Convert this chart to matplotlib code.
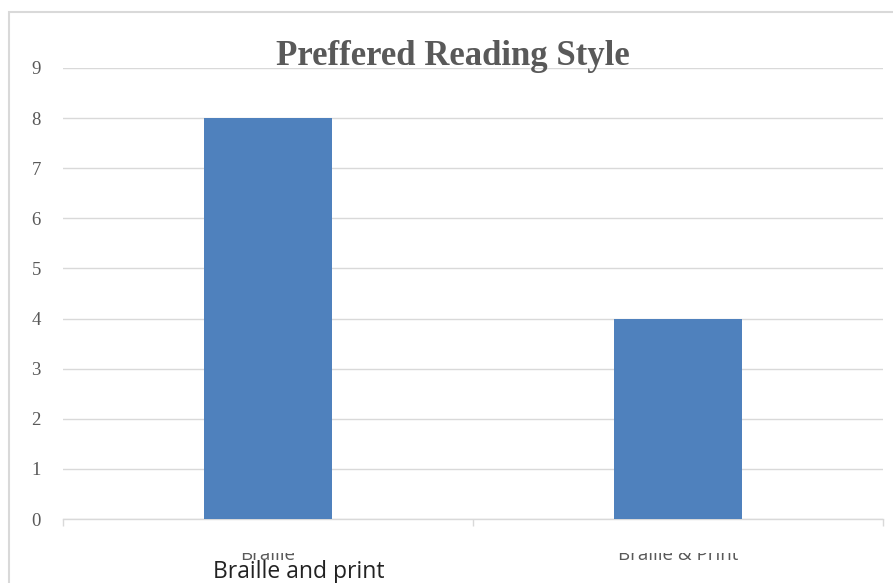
import matplotlib
matplotlib.use("Agg")
import matplotlib.pyplot as plt
from matplotlib.patches import Rectangle
from matplotlib.transforms import Bbox, TransformedBbox

# reading style survey counts
categories = ["Braille", "Braille & Print"]
counts = [8, 4]
y_ticks = list(range(0, 10))
title = "Preffered Reading Style"
note = "Braille and print"

W, H = 893, 583
BAR_BLUE = "#4f81bd"
GRID = "#d9d9d9"
TEXT_GRAY = "#595959"

fig = plt.figure(figsize=(W / 100, H / 100), dpi=100)
fig.patch.set_facecolor("white")

# chart-area frame
fig.patches.append(Rectangle((9 / W, -0.1), 1.2, (H - 12) / H + 0.1,
                             transform=fig.transFigure, fill=False,
                             edgecolor=GRID, lw=1.5))

ax = fig.add_axes([63 / W, 64 / H, 820 / W, 451 / H])
x = list(range(len(categories)))
ax.bar(x, counts, width=0.312, color=BAR_BLUE, zorder=3)

ax.set_xlim(-0.5, len(categories) - 0.5)
ax.set_ylim(0, 9)
ax.set_yticks(y_ticks)
ax.set_yticklabels([str(v) for v in y_ticks], family="Liberation Serif",
                   fontsize=13.5, color=TEXT_GRAY)
ax.tick_params(axis="y", length=0, pad=16)
ax.grid(axis="y", color=GRID, lw=1, zorder=0)

# category separators on the baseline
ax.set_xticks([i - 0.5 for i in range(len(categories) + 1)])
ax.set_xticklabels([])
ax.tick_params(axis="x", length=5, width=1, color=GRID, direction="out")
for side in ["top", "right", "left"]:
    ax.spines[side].set_visible(False)
ax.spines["bottom"].set_color(GRID)
ax.spines["bottom"].set_linewidth(1)

# category labels, cut off along their upper part
clip = TransformedBbox(Bbox([[0, 0], [1, (H - 553) / H]]), fig.transFigure)
for xi, lab in zip(x, categories):
    t = ax.text(xi, 0, lab, transform=ax.get_xaxis_transform(),
                ha="center", va="baseline", family="Open Sans", fontsize=13.5,
                color=TEXT_GRAY)
    t.set_y(-(560 - 519) / 451)
    t.set_clip_on(True)
    t.set_clip_box(clip)

fig.text(453 / W, (H - 65) / H, title, ha="center", va="baseline",
         family="Liberation Serif", fontweight="bold", fontsize=25,
         color=TEXT_GRAY)

fig.text(213 / W, (H - 578) / H, note, ha="left", va="baseline",
         family="Open Sans", fontsize=16.5, color="#222222")

fig.savefig("out.png", dpi=100)
